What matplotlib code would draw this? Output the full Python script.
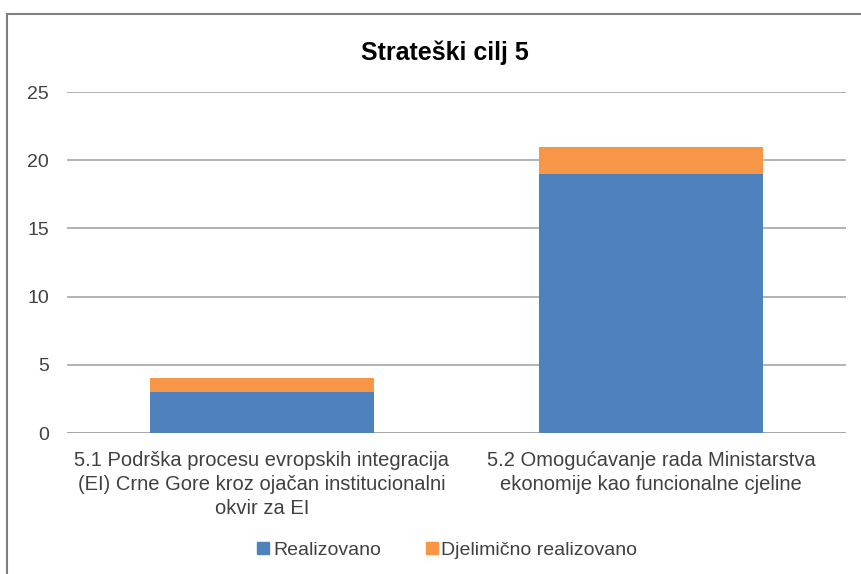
import matplotlib.pyplot as plt
from matplotlib.lines import Line2D
import numpy as np

# data
categories = [
    "5.1 Podrška procesu evropskih integracija\n(EI) Crne Gore kroz ojačan institucionalni\nokvir za EI",
    "5.2 Omogućavanje rada Ministarstva\nekonomije kao funcionalne cjeline",
]
realizovano = [3, 19]
djelimicno = [1, 2]
series_names = ["Realizovano", "Djelimično realizovano"]
yticks = [0, 5, 10, 15, 20, 25]

blue = "#4F81BD"
orange = "#F79646"
text_col = "#404040"

plt.rcParams["font.family"] = ["Liberation Sans", "DejaVu Sans"]

fig = plt.figure(figsize=(8.62, 5.74), dpi=100)
ax = fig.add_axes([0.0777, 0.2456, 0.9037, 0.5941])

x = np.arange(len(categories))
ax.bar(x, realizovano, width=0.575, color=blue, zorder=3)
ax.bar(x, djelimicno, width=0.575, bottom=realizovano, color=orange, zorder=3)

ax.set_xlim(-0.5, 1.5)
ax.set_ylim(0, 25)
ax.set_yticks(yticks)
ax.yaxis.grid(True, color="#A6A6A6", linewidth=1.2, zorder=0)
for s in ax.spines.values():
    s.set_visible(False)
ax.axhline(0, color="#A6A6A6", linewidth=1.2, zorder=1)
ax.tick_params(axis="both", length=0, labelsize=14, labelcolor=text_col)
ax.tick_params(axis="y", pad=13)
ax.tick_params(axis="x", pad=13, labelsize=14.5)
ax.set_xticks(x)
ax.set_xticklabels(categories, linespacing=1.32)

fig.text(0.516, 0.908, "Strateški cilj 5", ha="center", va="center",
         fontsize=18, fontweight="bold", color="black")

handles = [Line2D([], [], marker="s", linestyle="none", markersize=8, color=blue),
           Line2D([], [], marker="s", linestyle="none", markersize=8, color=orange)]
fig.legend(handles, series_names, loc="center", bbox_to_anchor=(0.518, 0.042),
           ncol=2, frameon=False, fontsize=14, labelcolor=text_col,
           handletextpad=0.1, columnspacing=2.2, handlelength=0.8)

# partial frame of the original chart box
fig.add_artist(Line2D([7 / 862, 7 / 862], [0, 1 - 14 / 574], color="#7F7F7F", linewidth=1.5))
fig.add_artist(Line2D([7 / 862, 1], [1 - 14 / 574, 1 - 14 / 574], color="#7F7F7F", linewidth=1.5))

fig.savefig("out.png", dpi=100)
